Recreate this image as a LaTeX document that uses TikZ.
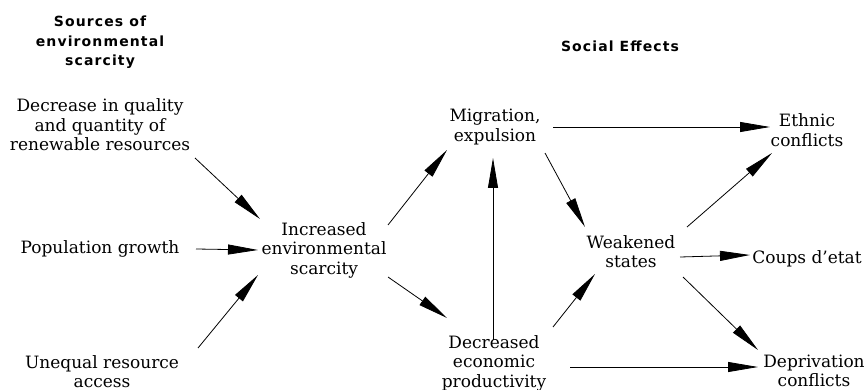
\documentclass[tikz,border=0pt]{standalone}
\usepackage{fontspec}
\setmainfont{DejaVu Serif}
\newfontfamily\headfont[LetterSpace=8]{DejaVu Sans}
\usetikzlibrary{arrows.meta,calc}
\begin{document}
\begin{tikzpicture}[x=1pt,y=-1pt,
  lbl/.style={align=center,inner sep=0pt,anchor=base,font=\fontsize{17}{19.5}\selectfont},
  head/.style={align=center,inner sep=0pt,anchor=base,font=\headfont\bfseries\fontsize{14}{19.5}\selectfont},
  arr/.style={line width=0.8pt,-{Triangle[length=30pt,width=10pt]}}]
\useasboundingbox (0,0) rectangle (864,390);

% column headings (placed by the baseline of their last line)
\node[head] (h1) at (100,66) {Sources of\\environmental\\scarcity};
\node[head] (h2) at (620,52) {Social Effects};

% sources
\node[lbl] (dec)  at (100,151)   {Decrease in quality\\and quantity of\\renewable resources};
\node[lbl] (pop)  at (100,253)   {Population growth};
\node[lbl] (uneq) at (102,387.5) {Unequal resource\\access};

% scarcity and intermediate effects
\node[lbl] (inc)  at (324,274)   {Increased\\environmental\\scarcity};
\node[lbl] (mig)  at (495,141.5) {Migration,\\expulsion};
\node[lbl] (decr) at (494,387)   {Decreased\\economic\\productivity};
\node[lbl] (weak) at (631,267.5) {Weakened\\states};

% conflicts
\node[lbl] (eth)  at (807,146.5) {Ethnic\\conflicts};
\node[lbl] (coup) at (807,263)   {Coups d'etat};
\node[lbl] (depr) at (814,386.5) {Deprivation\\conflicts};

% causal links
\draw[arr] ([shift={(95,7)}]dec.base)       -- ([shift={(-64,-55)}]inc.base);
\draw[arr] ([shift={(96,-4)}]pop.base)      -- ([shift={(-66,-24)}]inc.base);
\draw[arr] ([shift={(96,-39.5)}]uneq.base)  -- ([shift={(-66,1)}]inc.base);
\draw[arr] ([shift={(64,-49)}]inc.base)     -- ([shift={(-48,8.5)}]mig.base);
\draw[arr] ([shift={(64,3)}]inc.base)       -- ([shift={(-47,-69)}]decr.base);
\draw[arr] ([shift={(-1,-47)}]decr.base)    -- ([shift={(-2,16.5)}]mig.base);
\draw[arr] ([shift={(50,11.5)}]mig.base)    -- ([shift={(-46,-40.5)}]weak.base);
\draw[arr] ([shift={(58,-14.5)}]mig.base)   -- ([shift={(-37,-19.5)}]eth.base);
\draw[arr] ([shift={(56,-40.5)}]weak.base)  -- ([shift={(-35,6.5)}]eth.base);
\draw[arr] ([shift={(49,-10.5)}]weak.base)  -- ([shift={(-57,-8)}]coup.base);
\draw[arr] ([shift={(52,9.5)}]weak.base)    -- ([shift={(-56,-36.5)}]depr.base);
\draw[arr] ([shift={(59,-60)}]decr.base)    -- ([shift={(-36,6.5)}]weak.base);
\draw[arr] ([shift={(76,-20)}]decr.base)    -- ([shift={(-56,-19.5)}]depr.base);
\end{tikzpicture}
\end{document}
